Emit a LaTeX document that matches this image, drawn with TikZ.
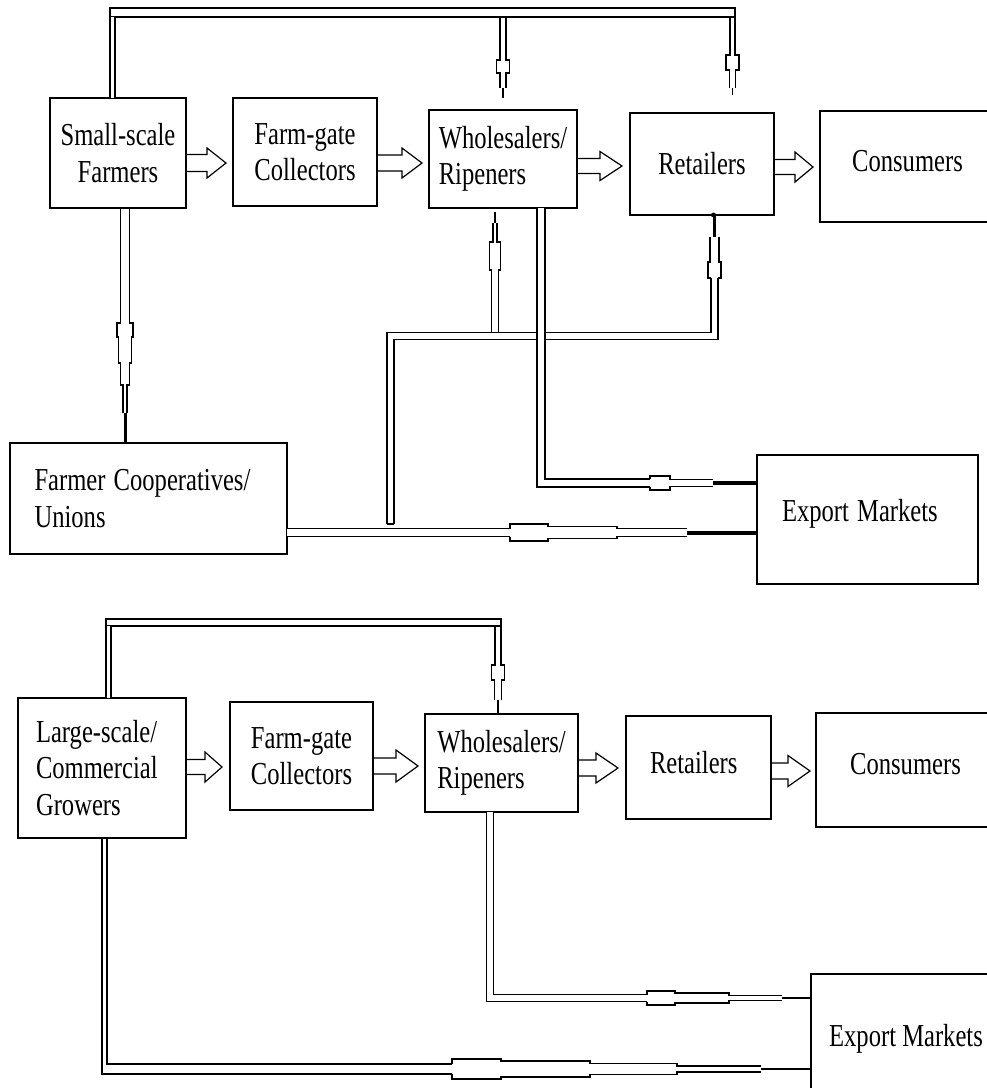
\documentclass[tikz,border=0pt]{standalone}
\usepackage{graphicx}
\usepackage{fontspec}
\setmainfont{Liberation Serif}
\newcommand{\tx}[1]{\scalebox{1}[1.3]{#1}}
\tikzset{
 box/.style={draw, line width=1.4pt, rectangle, inner sep=0pt, align=center, font=\fontsize{24.6pt}{36.5pt}\selectfont},
 tl/.style={line width=1.1pt},
 dbl/.style={double, line width=1.1pt, double distance=#1},
 arr/.style={line width=1.2pt, line join=miter},
}
\newcommand{\vtube}[4]{%
  \foreach \s in {-1,1}{%
    \draw[tl] ({#1+(\s)*(#3)/2},#2) \foreach \ya/\yb/\wd in {#4}{ -- ({#1+(\s)*(\wd)/2},\ya) -- ({#1+(\s)*(\wd)/2},\yb) };
  }%
}
\newcommand{\htube}[4]{%
  \foreach \s in {-1,1}{%
    \draw[tl] (#2,{#1+(\s)*(#3)/2}) \foreach \xa/\xb/\wd in {#4}{ -- (\xa,{#1+(\s)*(\wd)/2}) -- (\xb,{#1+(\s)*(\wd)/2}) };
  }%
}
\newcommand{\barrow}[6]{%
  \draw[arr] (#1,{#4-#5}) -- (#2,{#4-#5}) -- (#2,{#4-#6}) -- (#3,#4) -- (#2,{#4+#6}) -- (#2,{#4+#5}) -- (#1,{#4+#5});
}
\begin{document}
\begin{tikzpicture}[x=1pt,y=-1pt]
\useasboundingbox (0,0) rectangle (987,1088);
\clip (0,0) rectangle (987,1088);

% ---------- top chain ----------
\node[box, minimum width=136pt, minimum height=110pt] (sf) at (118,153) {\tx{Small-scale}\\\tx{Farmers}};
\node[box, minimum width=144pt, minimum height=108pt] (fg1) at (305,152) {\tx{Farm-gate}\\\tx{Collectors}};
\node[box, minimum width=148pt, minimum height=98pt, align=left] (wr1) at (503,159) {\tx{Wholesalers/}\\\tx{Ripeners}};
\node[box, minimum width=144pt, minimum height=102pt] (rt1) at (702,164) {\tx{Retailers}};
\node[box, minimum width=175pt, minimum height=111pt, text depth=10.6pt] (cn1) at (907.5,166.5) {\tx{Consumers}};
\node[box, minimum width=277pt, minimum height=111pt, align=left, text width=228pt] (fc) at (148.5,498.5) {\tx{Farmer Cooperatives/}\\\tx{Unions}};
\node[box, minimum width=221pt, minimum height=129pt, align=left, text width=171pt, text depth=19pt] (ex1) at (867.5,519.5) {\tx{Export Markets}};

\barrow{186}{207}{226}{163}{8.5}{15}
\barrow{377}{402}{422}{163}{8}{15}
\barrow{577}{600}{622}{166}{7.5}{14.5}
\barrow{774}{795}{813}{167}{7.5}{15}

% top loop
\draw[tl] (110,8) rectangle (735,17);
\draw[dbl=3.9pt] (112.5,17) -- (112.5,98);
\vtube{503}{17}{6}{17/60/6, 60/73/13, 73/88/6}
\draw[line width=2pt] (503,88) -- (503,98);
\vtube{732.5}{17}{5}{17/55/5, 55/70/13, 70/88/6}
\draw[line width=1.2pt] (732.5,88) -- (732.5,95);

% small-scale farmers -> cooperatives
\vtube{125}{208}{9}{208/323/9, 323/337/16, 337/363/13, 363/385/9, 385/413/4}
\draw[line width=3pt] (125,413) -- (125,443);

% distribution line from cooperatives
\draw[dbl=5.9pt] (390.5,524) |- (714.5,336) -- (714.5,278);
\draw[tl] (387,524) -- (394,524);
\vtube{714.5}{278}{7}{278/262/13, 262/237/9}
\draw[line width=3pt] (714.5,237) -- (714.5,215);
\fill (713.5,215) circle (2.5);
\vtube{495}{332.5}{7}{332.5/270/7, 270/242/11, 242/223/4}
\draw[line width=1.5pt] (495,223) -- (495,212);

% wholesalers -> export
\draw[dbl=6.9pt] (541,208) |- (650,483);
\htube{483}{650}{8}{650/670/14, 670/713/7}
\draw[line width=4pt] (713,483) -- (757,483);

% cooperatives -> export
\draw[dbl=6.9pt] (287,532.5) -- (510,532.5);
\htube{532.5}{510}{8}{510/548/17, 548/617/12, 617/687/8}
\draw[line width=4pt] (687,532.5) -- (757,532.5);

% ---------- bottom chain ----------
\node[box, minimum width=168pt, minimum height=140pt, align=left, text width=132pt] (lg) at (102,768) {\tx{Large-scale/}\\\tx{Commercial}\\\tx{Growers}};
\node[box, minimum width=143pt, minimum height=108pt] (fg2) at (301.5,756) {\tx{Farm-gate}\\\tx{Collectors}};
\node[box, minimum width=153pt, minimum height=98pt, align=left] (wr2) at (501.5,763) {\tx{Wholesalers/}\\\tx{Ripeners}};
\node[box, minimum width=145pt, minimum height=103pt, align=left, text width=97pt, text depth=10.8pt] (rt2) at (698.5,767.5) {\tx{Retailers}};
\node[box, minimum width=179pt, minimum height=114pt, text depth=11.6pt] (cn2) at (905.5,770) {\tx{Consumers}};
\node[box, minimum width=190pt, minimum height=129pt] (ex2) at (906,1038.5) {\tx{Export Markets}};

\barrow{186}{205}{222}{767}{7.5}{15}
\barrow{373}{396}{418}{766}{8}{16}
\barrow{578}{596}{618}{768}{8}{15}
\barrow{771}{788}{810}{771}{8}{15.5}

% bottom loop
\draw[tl] (106,619) rectangle (501,626);
\draw[dbl=3.9pt] (108.5,626) -- (108.5,698);
\vtube{498}{626}{6}{626/665/6, 665/680/13, 680/700/7}
\draw[line width=2pt] (498,700) -- (498,714);

% wholesalers -> export
\draw[dbl=5.9pt] (490,812) |- (647,998);
\htube{998}{647}{7}{647/675/14, 675/729/10, 729/782/5}
\draw[line width=1.2pt] (782,998) -- (811,998);

% growers -> export
\draw[tl] (107,838) -- (107,1064) -- (452,1064);
\draw[tl] (102,838) -- (102,1074) -- (452,1074);
\htube{1069}{452}{10}{452/501/20, 501/590/16, 590/677/11, 677/761/6}
\draw[line width=1.2pt] (761,1069) -- (811,1069);
\end{tikzpicture}
\end{document}
